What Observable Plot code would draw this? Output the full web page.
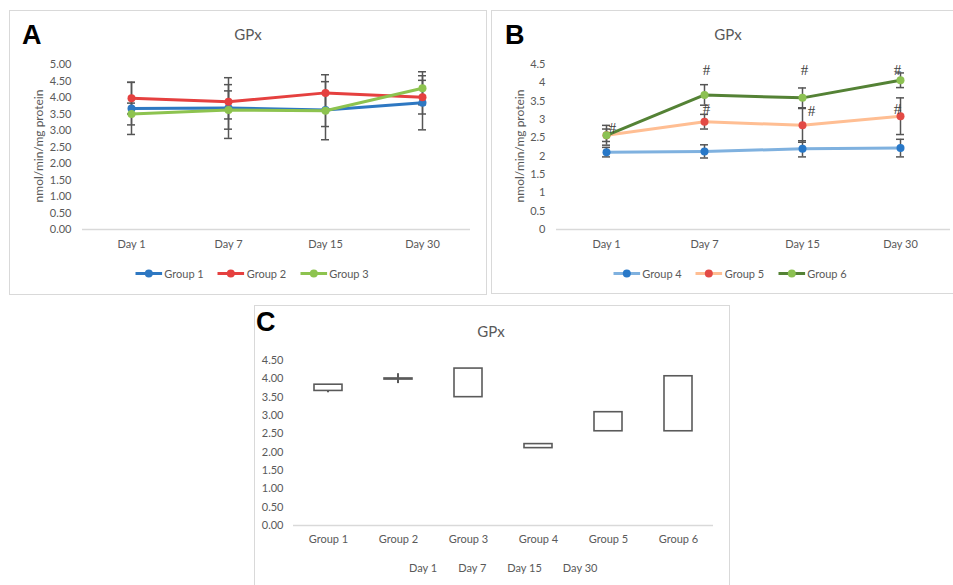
<!DOCTYPE html>
<html><head><meta charset="utf-8">
<script src="https://cdn.jsdelivr.net/npm/d3@7"></script>
<script src="https://cdn.jsdelivr.net/npm/@observablehq/plot@0.6"></script>
<style>
body{margin:0;background:#fff;font-family:Lato,"Open Sans",sans-serif;}
#root{position:relative;width:953px;height:585px;overflow:hidden;background:#fff;}
.panel{position:absolute;}
.panel svg{position:absolute;left:0;top:0;}
.frame{position:absolute;left:0;top:0;right:0;bottom:0;border:1.5px solid #d9d9d9;pointer-events:none;}
.letter{position:absolute;font:bold 27px "Liberation Sans",Arial,sans-serif;color:#000;line-height:1;}
.title{position:absolute;transform:translate(-50%,-50%);font-size:15px;color:#595959;white-space:nowrap;}
.ylab{position:absolute;transform:translate(-50%,-50%) rotate(-90deg);font-size:12px;color:#595959;white-space:nowrap;}
.legend{position:absolute;display:flex;align-items:center;gap:14px;font-size:11px;color:#595959;transform:translate(-50%,-50%);white-space:nowrap;}
.item{display:flex;align-items:center;gap:2px;}
.daylegend{position:absolute;display:flex;gap:21px;font-size:11px;color:#595959;white-space:nowrap;}
</style></head><body><div id="root"></div>
<script>
// ---------- data ----------
const days = ["Day 1", "Day 7", "Day 15", "Day 30"];

const groupsA = ["Group 1", "Group 2", "Group 3"];
const valuesA = [
  [3.67, 3.68, 3.62, 3.84],
  [3.98, 3.87, 4.14, 4.01],
  [3.50, 3.62, 3.60, 4.28]
];
const errA = [
  [0.79, 0.92, 0.50, 0.82],
  [0.48, 0.52, 0.55, 0.51],
  [0.33, 0.58, 0.88, 0.50]
];
const ticksA = [0, 0.5, 1, 1.5, 2, 2.5, 3, 3.5, 4, 4.5, 5];

const groupsB = ["Group 4", "Group 5", "Group 6"];
const valuesB = [
  [2.11, 2.13, 2.20, 2.22],
  [2.57, 2.94, 2.84, 3.09],
  [2.57, 3.67, 3.59, 4.07]
];
const errB = [
  [0.13, 0.18, 0.22, 0.24],
  [0.17, 0.20, 0.46, 0.50],
  [0.27, 0.28, 0.27, 0.20]
];
const ticksB = [0, 0.5, 1, 1.5, 2, 2.5, 3, 3.5, 4, 4.5];

// "#" significance marks in panel B
const hashDays   = ["Day 1", "Day 7", "Day 7", "Day 15", "Day 15", "Day 30", "Day 30"];
const hashValues = [2.76, 4.34, 3.27, 4.34, 3.22, 4.34, 3.27];

const ticksC = [0, 0.5, 1, 1.5, 2, 2.5, 3, 3.5, 4, 4.5];

// ---------- styles ----------
const lineColA = ["#2E78C2", "#E5403F", "#8DC34F"];
const dotColA  = ["#2E78C2", "#E5403F", "#8DC34F"];
const lineColB = ["#7FB1DF", "#FFBE93", "#548235"];
const dotColB  = ["#2878C8", "#E34A45", "#8CC152"];
const errCol = "#555555";
const txtCol = "#595959";

const root = document.getElementById("root");

function makePanel(left, top, w, h) {
  const p = document.createElement("div");
  p.className = "panel";
  Object.assign(p.style, {left: left + "px", top: top + "px", width: w + "px", height: h + "px"});
  root.appendChild(p);
  return p;
}
function addHTML(p, html) { p.insertAdjacentHTML("beforeend", html); }

function rowsFor(groups, values, errs) {
  const rows = [];
  groups.forEach((g, gi) => days.forEach((d, di) =>
    rows.push({group: g, gi, day: d, v: values[gi][di], e: errs[gi][di]})));
  return rows;
}

function lineChart(rows, groups, lineCols, dotCols, yDomain, ticks, fmt, dims, extra) {
  const marks = [
    Plot.ruleY([0], {stroke: "#d9d9d9", strokeWidth: 1.5}),
    Plot.ruleX(rows, {x: "day", y1: d => d.v - d.e, y2: d => d.v + d.e, stroke: errCol, strokeWidth: 1.5}),
    Plot.ruleY(rows, {x1: "day", x2: "day", y: d => d.v + d.e, insetLeft: -4, insetRight: -4, stroke: errCol, strokeWidth: 1.5}),
    Plot.ruleY(rows, {x1: "day", x2: "day", y: d => d.v - d.e, insetLeft: -4, insetRight: -4, stroke: errCol, strokeWidth: 1.5})
  ];
  groups.forEach((g, gi) => {
    const sub = rows.filter(r => r.gi === gi);
    marks.push(Plot.line(sub, {x: "day", y: "v", stroke: lineCols[gi], strokeWidth: 3, strokeLinejoin: "round"}));
    marks.push(Plot.dot(sub, {x: "day", y: "v", fill: dotCols[gi], r: 4}));
  });
  if (extra) marks.push(...extra);
  return Plot.plot({
    width: dims.w, height: dims.h,
    marginLeft: dims.ml, marginRight: dims.mr, marginTop: dims.mt, marginBottom: dims.mb,
    style: {fontFamily: "Lato, 'Open Sans', sans-serif", fontSize: "11px", color: txtCol, background: "transparent", overflow: "visible"},
    x: {type: "point", domain: days, padding: 0.5, tickSize: 0, tickPadding: 11, label: null},
    y: {domain: yDomain, ticks: ticks, tickFormat: fmt, tickSize: 0, tickPadding: 11, label: null},
    marks
  });
}

function legendHTML(groups, lineCols, dotCols) {
  return groups.map((g, i) =>
    `<div class="item"><svg width="27" height="10" style="position:static"><line x1="0" y1="5" x2="27" y2="5" stroke="${lineCols[i]}" stroke-width="3"/><circle cx="13.5" cy="5" r="4" fill="${dotCols[i]}"/></svg><span>${g}</span></div>`
  ).join("");
}

// ---------- Panel A ----------
{
  const p = makePanel(9, 10, 478, 285);
  const rows = rowsFor(groupsA, valuesA, errA);
  p.appendChild(lineChart(rows, groupsA, lineColA, dotColA, [0, 5], ticksA, d => d.toFixed(2),
    {w: 478, h: 285, ml: 73, mr: 17, mt: 54, mb: 66}));
  addHTML(p, `<div class="letter" style="left:13px;top:12px">A</div>`);
  addHTML(p, `<div class="title" style="left:239px;top:24px">GPx</div>`);
  addHTML(p, `<div class="ylab" style="left:29px;top:136px">nmol/min/mg protein</div>`);
  addHTML(p, `<div class="legend" style="left:243px;top:263px">${legendHTML(groupsA, lineColA, dotColA)}</div>`);
  addHTML(p, `<div class="frame"></div>`);
}

// ---------- Panel B ----------
{
  const p = makePanel(491, 10, 475, 284);
  const rows = rowsFor(groupsB, valuesB, errB);
  const hashes = hashDays.map((d, i) => ({day: d, v: hashValues[i], i}));
  const hashStyle = {fill: "#404040", fontSize: 15, fontFamily: "'Liberation Serif', 'DejaVu Serif', serif"};
  const extra = [
    Plot.text(hashes.filter(h => h.day === "Day 7" || (h.day === "Day 15" && h.i === 3)), {x: "day", y: "v", text: () => "#", dx: 2, ...hashStyle}),
    Plot.text(hashes.filter(h => h.day === "Day 30"), {x: "day", y: "v", text: () => "#", dx: -3, ...hashStyle}),
    Plot.text(hashes.filter(h => h.day === "Day 1"), {x: "day", y: "v", text: () => "#", dx: 6, ...hashStyle}),
    Plot.text(hashes.filter(h => h.day === "Day 15" && h.i === 4), {x: "day", y: "v", text: () => "#", dx: 9, ...hashStyle})
  ];
  p.appendChild(lineChart(rows, groupsB, lineColB, dotColB, [0, 4.5], ticksB, d => String(d),
    {w: 462, h: 284, ml: 65, mr: 3, mt: 54, mb: 65}, extra));
  addHTML(p, `<div class="letter" style="left:14px;top:12px">B</div>`);
  addHTML(p, `<div class="title" style="left:237px;top:24px">GPx</div>`);
  addHTML(p, `<div class="ylab" style="left:28px;top:136px">nmol/min/mg protein</div>`);
  addHTML(p, `<div class="legend" style="left:239px;top:263px">${legendHTML(groupsB, lineColB, dotColB)}</div>`);
  addHTML(p, `<div class="frame"></div>`);
}

// ---------- Panel C (open = Day 1, close = Day 30, high/low over days) ----------
{
  const W = 476, H = 280, ML = 39, MR = 17, MT = 55, MB = 60;
  const p = makePanel(254, 305, W, 295);
  const groupsC = groupsA.concat(groupsB);
  const valuesC = valuesA.concat(valuesB);
  const rowsC = groupsC.map((g, i) => {
    const vals = valuesC[i];
    return {group: g, open: vals[0], close: vals[vals.length - 1], low: d3.min(vals), high: d3.max(vals)};
  });
  const pIn = 0.6, pOut = 0.3;
  const step = (W - ML - MR) / (groupsC.length - pIn + 2 * pOut);
  const bw = step * (1 - pIn);
  const chart = Plot.plot({
    width: W, height: H, marginLeft: ML, marginRight: MR, marginTop: MT, marginBottom: MB,
    style: {fontFamily: "Lato, 'Open Sans', sans-serif", fontSize: "11px", color: txtCol, background: "transparent"},
    x: {type: "band", domain: groupsC, paddingInner: pIn, paddingOuter: pOut, tickSize: 0, tickPadding: 10, label: null},
    y: {domain: [0, 4.5], ticks: ticksC, tickFormat: d => d.toFixed(2), tickSize: 0, tickPadding: 10, label: null},
    marks: [
      Plot.ruleY([0], {stroke: "#d9d9d9", strokeWidth: 1.5}),
      Plot.barY(rowsC, {x: "group", y1: "low", y2: "high", fill: "#595959", insetLeft: bw / 2 - 1, insetRight: bw / 2 - 1}),
      Plot.barY(rowsC, {x: "group", y1: "open", y2: "close", fill: "#fff", stroke: "#5a5a5a", strokeWidth: 1.6})
    ]
  });
  p.appendChild(chart);
  addHTML(p, `<div class="letter" style="left:2px;top:4px">C</div>`);
  addHTML(p, `<div class="title" style="left:237px;top:26px">GPx</div>`);
  addHTML(p, `<div class="daylegend" style="left:155px;top:256px">${days.map(d => `<span>${d}</span>`).join("")}</div>`);
  addHTML(p, `<div class="frame"></div>`);
}
</script>
</body></html>
